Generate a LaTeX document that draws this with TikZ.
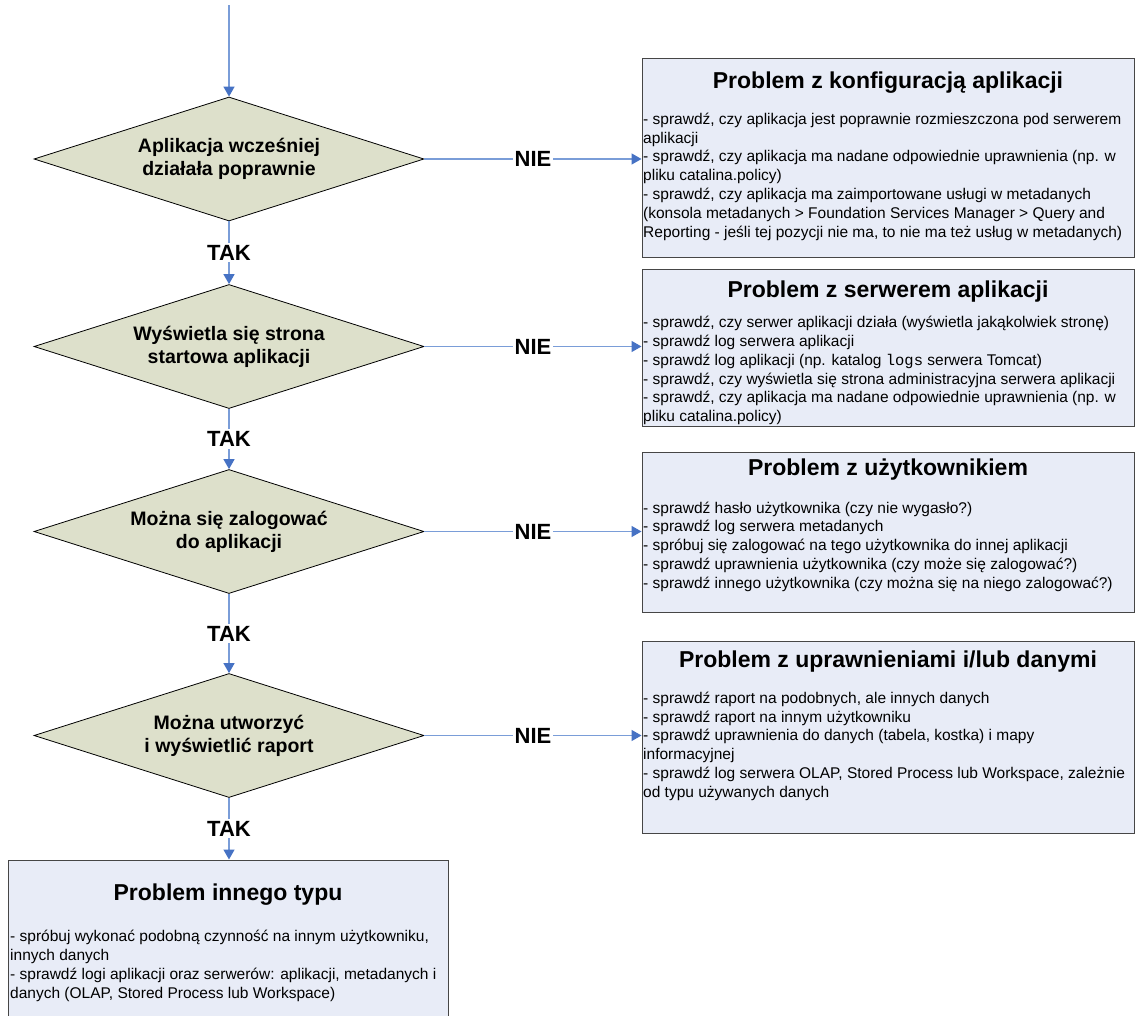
\documentclass[tikz,border=0pt]{standalone}
\usepackage{fontspec}
\setmainfont{Liberation Sans}
\newfontfamily\monof{Liberation Mono}
\usetikzlibrary{shapes.geometric,arrows.meta}
\definecolor{boxfill}{RGB}{232,236,247}
\definecolor{diafill}{RGB}{221,224,203}
\definecolor{linec}{RGB}{122,157,216}
\definecolor{tipc}{RGB}{70,114,196}
\definecolor{boxline}{RGB}{70,70,70}
\tikzset{
  decision/.style={diamond, aspect=3.15, draw=black, line width=0.8pt, fill=diafill,
    minimum width=390pt, minimum height=124pt, inner sep=0pt, align=center,
    font=\fontsize{19.5}{23}\selectfont\bfseries},
  probbox/.style={rectangle, draw=boxline, line width=1pt, fill=boxfill, inner sep=0pt},
  ttl/.style={font=\fontsize{23}{27}\selectfont\bfseries, inner sep=0pt, anchor=base},
  body/.style={font=\fontsize{15.5}{18.8}\selectfont, inner sep=0pt, anchor=base west},
  conn/.style={draw=linec, line width=1.4pt, -{Triangle[length=10pt,width=11pt,color=tipc]}},
  lbl/.style={fill=white, inner sep=2pt, font=\fontsize{22}{26}\selectfont\bfseries}
}
\begin{document}
\begin{tikzpicture}[x=1pt,y=-1pt]
\useasboundingbox[fill=white] (0,0) rectangle (1135,1015);

% decisions
\node[decision] (d1) at (229,159) {Aplikacja wcześniej\\działała poprawnie};
\node[decision] (d2) at (229,346.5) {Wyświetla się strona\\startowa aplikacji};
\node[decision] (d3) at (229,531.5) {Można się zalogować\\do aplikacji};
\node[decision] (d4) at (229,735.5) {Można utworzyć\\i wyświetlić raport};

% problem boxes
\node[probbox, minimum width=492pt, minimum height=199pt] (b1) at (888,157.5) {};
\node[probbox, minimum width=492pt, minimum height=157pt] (b2) at (888,347.5) {};
\node[probbox, minimum width=492pt, minimum height=160pt] (b3) at (888,532) {};
\node[probbox, minimum width=492pt, minimum height=192pt] (b4) at (888,737) {};
\node[probbox, minimum width=440pt, minimum height=156pt] (b5) at (228,938) {};

% titles
\node[ttl] (t1) at (888,88) {Problem z konfiguracją aplikacji};
\node[ttl] (t2) at (888,297) {Problem z serwerem aplikacji};
\node[ttl] (t3) at (888,475) {Problem z użytkownikiem};
\node[ttl] (t4) at (888,667) {Problem z uprawnieniami i/lub danymi};
\node[ttl] (t5) at (228,900) {Problem innego typu};

% bodies
\node[body] (x1) at (643,124.3) {\parbox[t]{520pt}{\raggedright
- sprawdź, czy aplikacja jest poprawnie rozmieszczona pod serwerem\\
aplikacji\\
- sprawdź, czy aplikacja ma nadane odpowiednie uprawnienia (np. w\\
pliku catalina.policy)\\
- sprawdź, czy aplikacja ma zaimportowane usługi w metadanych\\
(konsola metadanych > Foundation Services Manager > Query and\\
Reporting - jeśli tej pozycji nie ma, to nie ma też usług w metadanych)}};

\node[body] (x2) at (643,327.7) {\parbox[t]{520pt}{\raggedright
- sprawdź, czy serwer aplikacji działa (wyświetla jakąkolwiek stronę)\\
- sprawdź log serwera aplikacji\\
- sprawdź log aplikacji (np. katalog {\monof logs} serwera Tomcat)\\
- sprawdź, czy wyświetla się strona administracyjna serwera aplikacji\\
- sprawdź, czy aplikacja ma nadane odpowiednie uprawnienia (np. w\\
pliku catalina.policy)}};

\node[body] (x3) at (643,513) {\parbox[t]{520pt}{\raggedright
- sprawdź hasło użytkownika (czy nie wygasło?)\\
- sprawdź log serwera metadanych\\
- spróbuj się zalogować na tego użytkownika do innej aplikacji\\
- sprawdź uprawnienia użytkownika (czy może się zalogować?)\\
- sprawdź innego użytkownika (czy można się na niego zalogować?)}};

\node[body] (x4) at (643,703.3) {\parbox[t]{520pt}{\raggedright
- sprawdź raport na podobnych, ale innych danych\\
- sprawdź raport na innym użytkowniku\\
- sprawdź uprawnienia do danych (tabela, kostka) i mapy\\
informacyjnej\\
- sprawdź log serwera OLAP, Stored Process lub Workspace, zależnie\\
od typu używanych danych}};

\node[body] (x5) at (10,941.7) {\parbox[t]{460pt}{\raggedright
- spróbuj wykonać podobną czynność na innym użytkowniku,\\
innych danych\\
- sprawdź logi aplikacji oraz serwerów: aplikacji, metadanych i\\
danych (OLAP, Stored Process lub Workspace)}};

% connectors
\coordinate (start) at (229,5);
\draw[conn] (start) -- (d1.north);
\draw[conn] (d1.south) -- node[lbl]{TAK} (d2.north);
\draw[conn] (d2.south) -- node[lbl]{TAK} (d3.north);
\draw[conn] (d3.south) -- node[lbl]{TAK} (d4.north);
\draw[conn] (d4.south) -- node[lbl]{TAK} (d4.south |- b5.north);
\draw[conn] (d1.east) -- node[lbl]{NIE} (d1.east -| b1.west);
\draw[conn] (d2.east) -- node[lbl]{NIE} (d2.east -| b2.west);
\draw[conn] (d3.east) -- node[lbl]{NIE} (d3.east -| b3.west);
\draw[conn] (d4.east) -- node[lbl]{NIE} (d4.east -| b4.west);
\end{tikzpicture}
\end{document}
